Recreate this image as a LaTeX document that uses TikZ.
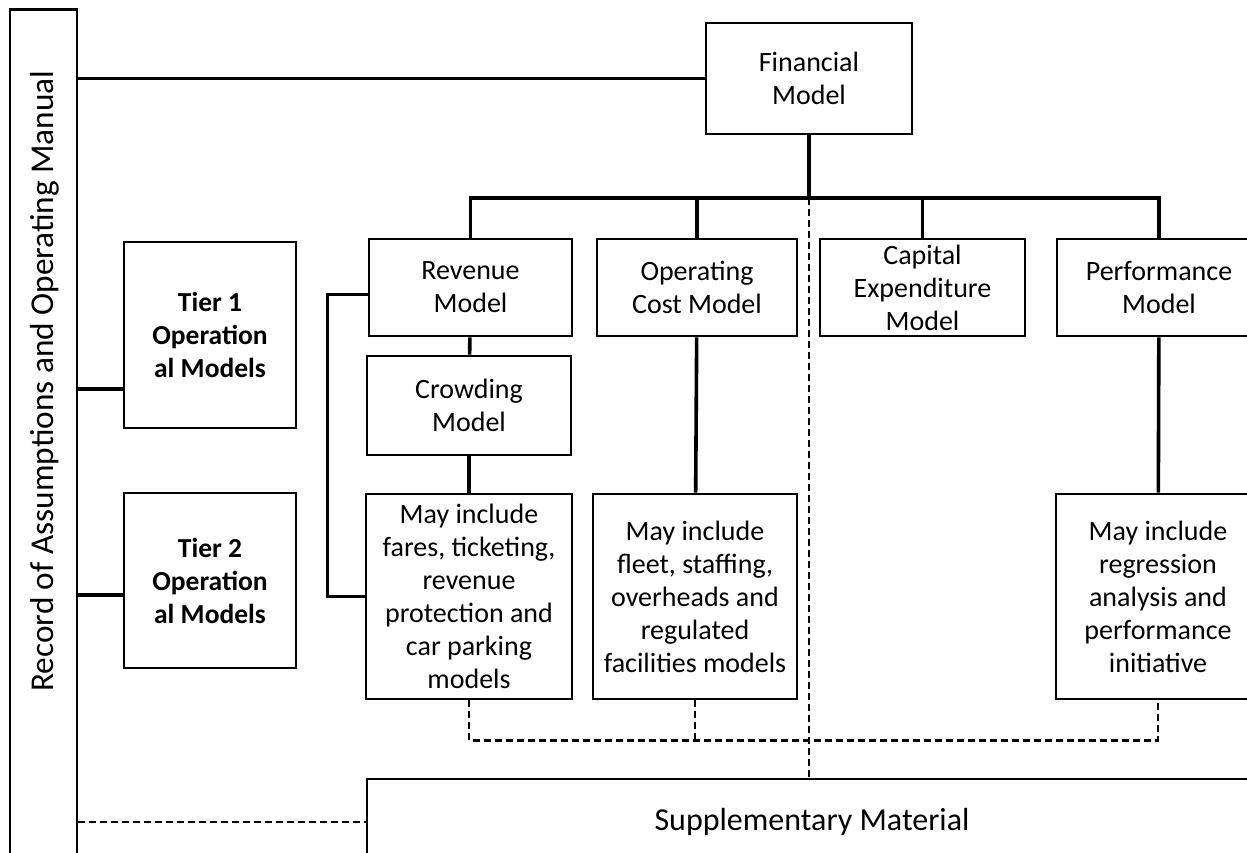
\documentclass[tikz,border=0pt]{standalone}
\usepackage{fontspec}
\setmainfont{Carlito}
\usepackage{tikz}
\usetikzlibrary{calc,positioning}
\tikzset{
    box/.style={draw, line width=2.8pt, align=center, inner sep=0pt,
        font=\fontsize{28}{33}\selectfont},
    tierbox/.style={box, minimum width=172pt, font=\fontsize{27.5}{33}\selectfont\bfseries},
    link/.style={line width=3.6pt},
    dlink/.style={line width=2.3pt, dash pattern=on 7pt off 4pt}
}

\begin{document}
\begin{tikzpicture}[x=1pt,y=-1pt]
      \useasboundingbox (0,0) rectangle (1247,852);
      \clip (0,0) rectangle (1247,852);
      % manual down the left side
      \node[box, minimum width=67pt, minimum height=900pt, anchor=north] (ram) at (43.5,8) {};
      \node[rotate=90, font=\fontsize{33.3}{38}\selectfont] (ramtext) at (45,381) {Record of Assumptions and Operating Manual};
      \node[box, minimum width=206pt, minimum height=111pt] (fin) at (809,78.5) {Financial\\Model};
      \node[box, minimum width=203pt, minimum height=97pt] (rev) at (470.5,287.5) {Revenue\\Model};
      \node[box, minimum width=200pt, minimum height=97pt] (opc) at (697,287.5) {Operating\\Cost Model};
      \node[box, minimum width=205pt, minimum height=97pt] (cap) at (922.5,287.5) {Capital\\Expenditure\\Model};
      \node[box, minimum width=204pt, minimum height=97pt] (perf) at (1159,287.5) {Performance\\Model};
      \node[box, minimum width=204pt, minimum height=99pt] (crowd) at (469,405.5) {Crowding\\Model};
      \node[box, minimum width=206pt, minimum height=205pt] (revd) at (469,596.5) {May include\\fares, ticketing,\\revenue\\protection and\\car parking\\models};
      \node[box, minimum width=204pt, minimum height=205pt] (opcd) at (695,596.5) {May include\\fleet, staffing,\\overheads and\\regulated\\facilities models};
      \node[box, minimum width=204pt, minimum height=205pt] (perfd) at (1158,596.5) {May include\\regression\\analysis and\\performance\\initiative};
      \node[tierbox, minimum height=186pt] (tier1) at (210,335) {Tier 1\\Operation\\al Models};
      \node[tierbox, minimum height=175pt] (tier2) at (210,580.5) {Tier 2\\Operation\\al Models};
      \node[box, minimum width=890pt, minimum height=86pt, font=\fontsize{32}{38}\selectfont] (supp) at (812,822) {Supplementary Material};

      \coordinate (bus) at (809,198);
      \draw[link] (ram.east |- fin.west) -- (fin.west);
      \draw[link] (fin.south) -- (bus);
      \draw[link] (rev.north) |- (bus) -| (perf.north);
      \draw[link] (opc.north) -- (opc.north |- bus);
      \draw[link] (cap.north) -- (cap.north |- bus);
      \draw[link] (rev) -- (crowd);
      \draw[link] (crowd) -- (revd);
      \draw[link] (opc) -- (opcd);
      \draw[link] (perf) -- (perfd);
      \draw[link] ([yshift=-7pt]rev.west) -- ++(-40,0) |- (revd.west);
      \coordinate (t1in) at ([yshift=-54pt]tier1.west);
      \coordinate (t2in) at ([yshift=-14.5pt]tier2.west);
      \draw[link] (ram.east |- t1in) -- (t1in);
      \draw[link] (ram.east |- t2in) -- (t2in);

      \draw[dlink] (revd.south) -- ++(0,40) coordinate (d1) -| (perfd.south);
      \draw[dlink] (opcd.south) -- (opcd.south |- d1);
      \draw[dlink] (bus) -- (bus |- supp.north);
      \draw[dlink] (ram.east |- supp.west) -- (supp.west);
\end{tikzpicture}
\end{document}
